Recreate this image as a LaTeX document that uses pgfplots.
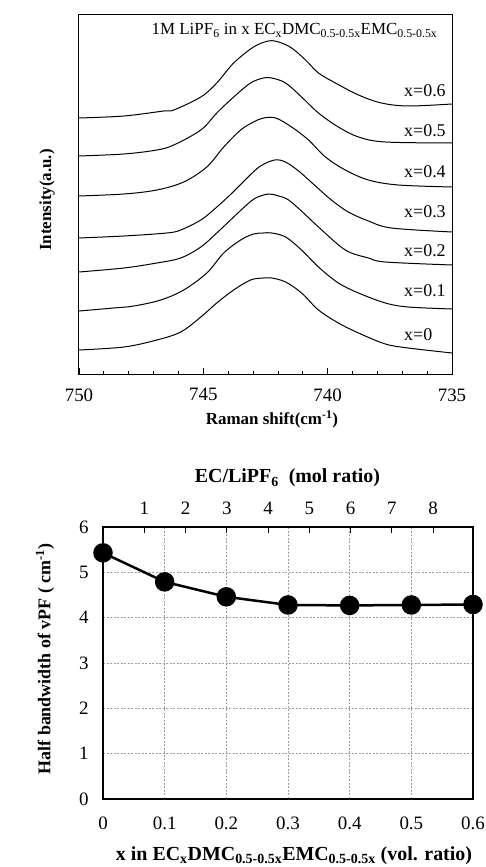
\documentclass[border=0pt]{standalone}
\usepackage{fontspec}
\setmainfont{Liberation Serif}
\usepackage{pgfplots}
\pgfplotsset{compat=1.18}
\newcommand{\fs}[1]{\fontsize{#1}{#1}\selectfont}
\pgfplotsset{sp/.style={black, solid, line width=1bp, smooth, tension=0.55, mark=none}}
\begin{document}
\begin{tikzpicture}
\useasboundingbox (0,0) rectangle (486bp,867bp);
% ---------------- top panel: Raman spectra ----------------
\begin{axis}[
  at={(79bp,492bp)}, anchor=south west, scale only axis,
  width=373bp, height=360bp,
  xmin=735, xmax=750, x dir=reverse, ymin=0, ymax=360,
  ytick=\empty,
  xtick={735,740,745,750},
  minor xtick={736,737,738,739,741,742,743,744,746,747,748,749},
  xtick pos=left, xtick align=inside,
  major tick length=7bp, minor tick length=3.5bp,
  axis line style={line width=1bp},
  xtick style={draw=black, line width=0.8bp},
  minor x tick style={draw=black, line width=0.8bp},
  /pgf/number format/assume math mode=true,
  xticklabel style={font=\fs{19}, yshift=-10bp},
]
% x=0.6
\addplot[sp] table {
750 257
748.19 259
746.59 264
746.19 265
745.10 278
744.46 292
743.78 312
742.98 328
742.38 334
741.97 333
741.45 327
740.89 315
740.37 302
739.69 292
738.76 280
737.84 272
736.76 269
735 271
};
% x=0.5
\addplot[sp] table {
750 219
748.19 221
746.87 225
746.19 230
745.10 245
744.46 262
743.78 278
743.10 292
742.58 297
742.25 297
741.69 292
741.05 278
740.37 262
739.57 248
738.76 238
737.68 233
735 232
};
% x=0.4
\addplot[sp] table {
750 179
748.19 181
746.87 185
745.79 193
744.86 208
744.18 228
743.50 245
742.98 253
742.58 257
742.09 257
741.45 248
740.77 235
740.09 218
739.29 205
738.36 195
737.16 190
735 188
};
% x=0.3
\addplot[sp] table {
750 137
748.19 139
746.47 142
745.91 145
745.10 155
744.50 167
743.80 183
743.20 198
742.70 209
742.13 215
741.70 213
741.17 204
740.49 189
739.85 175
739.17 163
738.36 154
737.44 147
735 143
};
% x=0.2
\addplot[sp] table {
750 103
748.19 107
746.87 112
745.91 117
745.10 128
744.46 142
743.78 158
743.26 170
742.90 177
742.38 181
741.97 179
741.57 175
740.97 162
740.37 148
739.29 125
738.36 117
737.68 113
735 110
};
% x=0.1
\addplot[sp] table {
750 64
748.60 67
747.79 69
746.71 75
745.79 85
744.86 102
744.18 122
743.50 135
742.98 141
742.58 142
742.25 142
741.69 138
741.05 125
740.37 108
739.57 92
738.76 82
737.68 72
736.76 68
735 66
};
% x=0
\addplot[sp] table {
750 25
748.19 28
746.87 35
745.91 43
745.10 58
744.46 72
743.78 85
743.10 95
742.58 97
742.25 97
741.69 93
741.05 82
740.37 65
739.57 52
738.76 42
737.68 31
736.76 27
735 22
};
\end{axis}
% labels of top panel
\node[anchor=base, font=\fs{17}] at (294.5bp,832bp)
  {1M LiPF\textsubscript{6} in x EC\textsubscript{x}DMC\textsubscript{0.5-0.5x}EMC\textsubscript{0.5-0.5x}};
\foreach \lab/\yb in {x=0.6/97, x=0.5/137, x=0.4/178, x=0.3/218, x=0.2/257, x=0.1/297, x=0/341}
  \node[anchor=base west, inner sep=0pt, font=\fs{18}] at (404bp,{(867-\yb)*1bp}) {\lab};
\node[anchor=base, font=\fs{17}\bfseries] at (272bp,442bp) {Raman shift(cm\textsuperscript{-1})};
\node[rotate=90, font=\fs{17}\bfseries] at (47bp,667bp) {Intensity(a.u.)};

% ---------------- bottom panel: half bandwidth ----------------
\begin{axis}[
  at={(103bp,68bp)}, anchor=south west, scale only axis,
  width=370bp, height=272bp,
  xmin=0, xmax=0.6, ymin=0, ymax=6,
  xtick={0,0.1,0.2,0.3,0.4,0.5,0.6},
  ytick={0,1,2,3,4,5,6},
  grid=major,
  major grid style={gray!75, dash pattern=on 2bp off 1.5bp, line width=0.6bp},
  major tick length=0pt,
  axis line style={line width=1.2bp},
  clip=false,
  /pgf/number format/assume math mode=true,
  /pgf/number format/fixed, /pgf/number format/precision=1,
  xticklabel style={font=\fs{19}, yshift=-14bp},
  yticklabel style={font=\fs{19}, xshift=-11bp},
]
\addplot[black, line width=2.5bp, mark=*, mark size=8.5bp, mark options={fill=black, solid}]
  coordinates {(0,5.43)(0.1,4.79)(0.2,4.46)(0.3,4.28)(0.4,4.27)(0.5,4.28)(0.6,4.29)};
\end{axis}
\begin{axis}[
  at={(103bp,68bp)}, anchor=south west, scale only axis,
  width=370bp, height=272bp,
  xmin=0, xmax=8.97, ymin=0, ymax=6,
  hide y axis,
  xtick={1,2,3,4,5,6,7,8}, ytick=\empty,
  xtick pos=right, xticklabel pos=right, xtick align=inside,
  major tick length=6bp,
  xtick style={draw=black, line width=0.8bp},
  axis line style={line width=1.2bp},
  /pgf/number format/assume math mode=true,
  xticklabel style={font=\fs{19}, yshift=9bp},
]
\end{axis}
\node[anchor=base, font=\fs{20}\bfseries] at (287.5bp,384bp) {EC/LiPF\textsubscript{6}\ \ (mol ratio)};
\node[anchor=base, font=\fs{20}\bfseries] at (294bp,7bp)
  {x in EC\textsubscript{x}DMC\textsubscript{0.5-0.5x}EMC\textsubscript{0.5-0.5x} (vol. ratio)};
\node[rotate=90, font=\fs{18}\bfseries] at (45bp,208bp) {Half bandwidth of vPF ( cm\textsuperscript{-1})};
\end{tikzpicture}
\end{document}
